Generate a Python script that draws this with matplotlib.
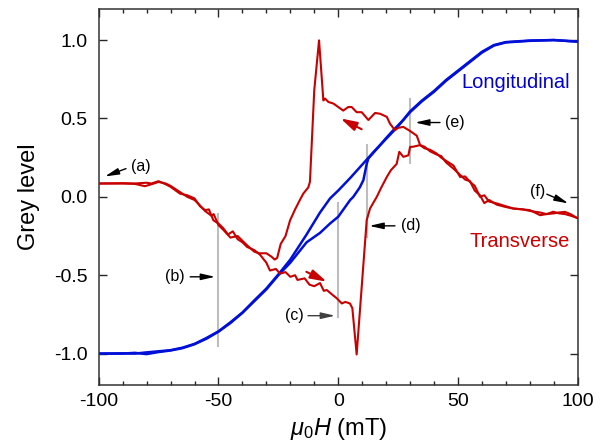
import numpy as np
import matplotlib
matplotlib.use('Agg')
import matplotlib.pyplot as plt
from matplotlib.ticker import MultipleLocator

plt.rcParams['font.family'] = ['Liberation Sans', 'DejaVu Sans']
plt.rcParams['axes.unicode_minus'] = False
plt.rcParams['mathtext.fontset'] = 'custom'
plt.rcParams['mathtext.rm'] = 'Liberation Sans'
plt.rcParams['mathtext.it'] = 'Liberation Sans:italic'

RED = '#c80000'
BLUE = '#0010d8'

# transverse signal, field sweeping up (lower branch in the middle)
tr_up_x = [-100, -90, -85, -80, -78, -75, -72, -70, -66, -63, -60, -57.7, -55.6, -54, -52.1,
           -50, -48, -46, -44, -42, -40, -38, -35, -32.6, -30, -28.5, -26, -24.3, -22, -20,
           -18, -17, -14, -12, -10, -7.6, -6, -4.8, -2, -0.6, 1.5, 3, 4.9, 5.9, 7.7,
           11.9, 13.3, 16.1, 18, 20.3, 22, 24.4, 25.5, 27.2, 29.3, 30, 31.4, 34.2, 36, 38.4,
           41.1, 43, 45, 48.1, 50.9, 53, 55, 57, 59.2, 61, 63, 66.2, 70, 73.1, 77,
           80.1, 84.3, 87, 89.8, 92, 94.7, 97, 100]
tr_up_y = [0.085, 0.087, 0.085, 0.09, 0.085, 0.10, 0.08, 0.064, 0.02, 0.01, -0.01, -0.06, -0.085, -0.08, -0.15,
           -0.17, -0.2, -0.24, -0.22, -0.27, -0.29, -0.32, -0.34, -0.37, -0.42, -0.47, -0.46, -0.49, -0.48, -0.51,
           -0.5, -0.53, -0.52, -0.56, -0.57, -0.55, -0.6, -0.594, -0.63, -0.647, -0.68, -0.67, -0.68, -0.71, -1.005,
           -0.148, -0.074, 0.0, 0.06, 0.127, 0.17, 0.21, 0.287, 0.255, 0.265, 0.318, 0.32, 0.33, 0.31, 0.30,
           0.276, 0.25, 0.23, 0.2, 0.127, 0.13, 0.096, 0.07, 0.0, 0.01, -0.03, -0.042, -0.06, -0.074, -0.08,
           -0.085, -0.117, -0.11, -0.106, -0.1, -0.096, -0.11, -0.138]

# transverse signal, field sweeping down (upper branch in the middle)
tr_dn_x = [-100, -90, -85, -80.7, -78, -75, -72, -70, -66, -63, -60, -58, -55.6, -53, -52,
           -50, -48, -45, -42, -40, -38, -35, -33, -30, -28, -26.5, -25.5, -24, -22, -20.1,
           -18, -16, -14.6, -12.5, -11.8, -10, -8, -6.2, -5.5, -4.1, -2, 0, 2.1, 4.2, 5.6,
           7.7, 9.8, 12.6, 15.4, 17.5, 20.3, 21.6, 23.7, 25, 27.2, 30, 32.8, 34.2, 36, 38.4,
           41.1, 43, 45, 48.1, 50.9, 53, 55, 57, 59.2, 61, 63, 66.2, 70, 73.1, 77,
           80.1, 84.3, 87, 89.8, 92, 94.7, 97, 100]
tr_dn_y = [0.085, 0.085, 0.083, 0.068, 0.08, 0.095, 0.085, 0.07, 0.03, 0.0, -0.02, -0.05, -0.09, -0.12, -0.11,
           -0.18, -0.21, -0.26, -0.25, -0.28, -0.31, -0.35, -0.36, -0.36, -0.38, -0.40, -0.39, -0.3, -0.25, -0.15,
           -0.08, -0.02, 0.02, 0.06, 0.096, 0.68, 0.998, 0.615, 0.627, 0.605, 0.595, 0.573, 0.55, 0.573, 0.573,
           0.54, 0.54, 0.49, 0.535, 0.53, 0.51, 0.467, 0.425, 0.44, 0.446, 0.42, 0.39, 0.33, 0.32, 0.29,
           0.27, 0.26, 0.22, 0.18, 0.14, 0.11, 0.10, 0.04, 0.01, -0.04, -0.02, -0.05, -0.065, -0.075, -0.08,
           -0.09, -0.1, -0.11, -0.095, -0.105, -0.11, -0.12, -0.135]

# longitudinal signal
lo_up_x = [-100, -90, -85, -80, -75, -70, -65, -60, -55, -50, -45, -40, -35, -30, -25,
           -20, -13.2, -7.6, -3.4, 0, 5, 6.3, 9, 10.5, 11.9, 12.6, 17.5, 20.3, 23, 27.2,
           30, 35, 40, 45, 50, 55, 60, 65, 70, 75, 80, 90, 100]
lo_up_y = [-1.0, -1.0, -0.995, -1.003, -0.99, -0.98, -0.965, -0.94, -0.905, -0.86, -0.805, -0.74, -0.665, -0.59, -0.50,
           -0.42, -0.29, -0.23, -0.17, -0.127, -0.02, 0.0, 0.06, 0.106, 0.21, 0.245, 0.33, 0.38, 0.425, 0.49,
           0.54, 0.61, 0.67, 0.74, 0.80, 0.86, 0.92, 0.965, 0.985, 0.99, 0.995, 1.0, 0.99]
lo_dn_x = [-100, -90, -85, -80, -75, -70, -65, -60, -55, -50, -45, -40, -35, -30, -25,
           -20, -13.2, -7.6, -3.4, 0, 5, 10, 15, 20, 25,
           30, 35, 40, 45, 50, 55, 60, 65, 70, 75, 80, 90, 100]
lo_dn_y = [-1.0, -0.998, -1.0, -0.992, -0.985, -0.978, -0.962, -0.938, -0.9, -0.858, -0.8, -0.738, -0.66, -0.585, -0.495,
           -0.40, -0.24, -0.10, -0.01, 0.04, 0.12, 0.205, 0.29, 0.37, 0.45,
           0.545, 0.615, 0.675, 0.745, 0.805, 0.865, 0.925, 0.968, 0.987, 0.992, 0.997, 1.0, 0.99]

# grey marker lines: field, y bottom, y top
mark_x = [-50, 0, 12, 30]
mark_lo = [-0.96, -0.77, -0.26, 0.21]
mark_hi = [-0.10, -0.03, 0.34, 0.63]

fig = plt.figure(figsize=(6.04, 4.46), dpi=100)
ax = fig.add_axes([0.1634, 0.1368, 0.7931, 0.8437])

ax.vlines(mark_x, mark_lo, mark_hi, color='#bdbdbd', lw=1.5, zorder=1)

ax.plot(lo_up_x, lo_up_y, color=BLUE, lw=1.8, zorder=2)
ax.plot(lo_dn_x, lo_dn_y, color=BLUE, lw=1.8, zorder=2)
ax.plot(tr_up_x, tr_up_y, color=RED, lw=1.5, zorder=3)
ax.plot(tr_dn_x, tr_dn_y, color=RED, lw=1.5, zorder=3)

ax.set_xlim(-100, 100)
ax.set_ylim(-1.2, 1.2)
ax.set_xticks([-100, -50, 0, 50, 100])
ax.xaxis.set_minor_locator(MultipleLocator(10))
ax.set_yticks([-1.0, -0.5, 0.0, 0.5, 1.0])
ax.set_yticklabels(['%.1f' % v for v in [-1.0, -0.5, 0.0, 0.5, 1.0]])
ax.tick_params(which='both', direction='in', top=True, right=True, labelsize=14, color='0.15')
ax.tick_params(which='major', length=6, width=1)
ax.tick_params(which='minor', length=3, width=1)
ax.tick_params(axis='y', pad=8)
ax.tick_params(axis='x', pad=6)
for s in ax.spines.values():
    s.set_color('0.2')
    s.set_linewidth(1.1)

ax.set_xlabel(r'$\mu_0H$ (mT)', fontsize=17)
ax.set_ylabel('Grey level', fontsize=17, labelpad=10)

ax.text(96.8, 0.73, 'Longitudinal', color='#0000d0', fontsize=14.5, ha='right', va='center')
ax.text(96.8, -0.287, 'Transverse', color='#cc0000', fontsize=14.5, ha='right', va='center')

# labelled black arrows: label, text position, arrow tail, arrow tip
arr = dict(arrowstyle='-|>,head_length=0.7,head_width=0.16', color='black', lw=1,
           mutation_scale=12, shrinkA=0, shrinkB=0)
ax.annotate('', xy=(-97.4, 0.13), xytext=(-88.6, 0.18), arrowprops=arr)
ax.text(-82.3, 0.195, '(a)', fontsize=11.5, ha='center', va='center')
ax.annotate('', xy=(-51.4, -0.51), xytext=(-61.8, -0.51), arrowprops=arr)
ax.text(-68.1, -0.51, '(b)', fontsize=11.5, ha='center', va='center')
ax.annotate('', xy=(-1.3, -0.758), xytext=(-12.6, -0.758), arrowprops=dict(arr, color='0.25'))
ax.text(-18.5, -0.758, '(c)', fontsize=11.5, ha='center', va='center')
ax.annotate('', xy=(13.0, -0.185), xytext=(23.7, -0.185), arrowprops=arr)
ax.text(30.4, -0.185, '(d)', fontsize=11.5, ha='center', va='center')
ax.annotate('', xy=(32.1, 0.474), xytext=(42.5, 0.474), arrowprops=arr)
ax.text(48.6, 0.474, '(e)', fontsize=11.5, ha='center', va='center')
ax.annotate('', xy=(96.1, -0.042), xytext=(87.1, 0.017), arrowprops=arr)
ax.text(83.2, 0.036, '(f)', fontsize=11.5, ha='center', va='center')

# sweep direction arrows
rarr = dict(arrowstyle='-|>,head_length=0.7,head_width=0.2', color=RED, lw=1.5,
            mutation_scale=14, shrinkA=0, shrinkB=0)
ax.annotate('', xy=(-4.8, -0.541), xytext=(-13.3, -0.478), arrowprops=rarr)
ax.annotate('', xy=(1.0, 0.50), xytext=(9.8, 0.431), arrowprops=rarr)

fig.savefig('out.png', dpi=100)
